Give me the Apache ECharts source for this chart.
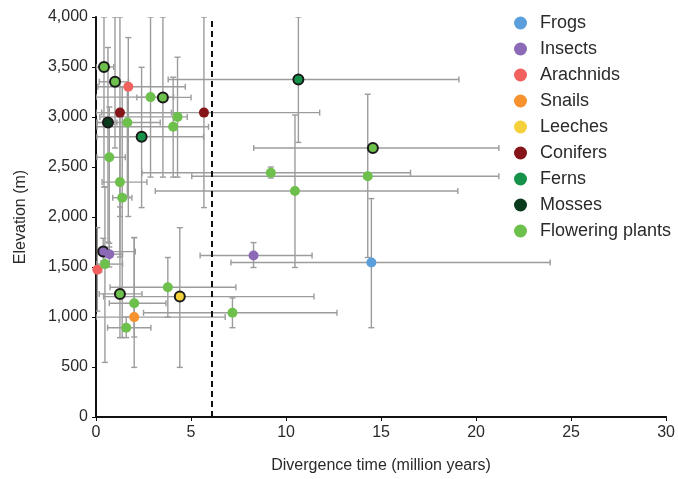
<!DOCTYPE html>
<html>
<head>
<meta charset="utf-8">
<script src="https://cdn.jsdelivr.net/npm/echarts@6/dist/echarts.min.js"></script>
<style>
  html, body { margin: 0; padding: 0; background: #fff; }
  #chart { width: 678px; height: 479px; }
</style>
</head>
<body>
<div id="chart"></div>
<script>
// rows: [time, elevation, timeLow, timeHigh, elevLow, elevHigh, outlined]
var frogs = [
  [14.49, 1545, 7.1, 23.9, 893, 2184, 0]
];
var insects = [
  [0.38, 1654, 0.14, 2.07, 1560, 1787, 1],
  [0.70, 1628, 0.3, 1.4, 1500, 1737, 0],
  [8.29, 1615, 5.48, 11.37, 1495, 1744, 0]
];
var arachnids = [
  [1.70, 3302, 0.1, 4.7, 2005, 3794, 0],
  [0.07, 1472, 0, 0.3, 1059, 1893, 0]
];
var snails = [
  [2.01, 999, 0, 6.8, 496, 1794, 0]
];
var leeches = [
  [4.41, 1204, 0.4, 11.47, 496, 1893, 1]
];
var conifers = [
  [1.26, 3044, 0, 3.97, 2005, 4000, 0],
  [5.68, 3044, 0.3, 11.77, 2094, 4000, 0]
];
var ferns = [
  [10.65, 3375, 3.8, 19.1, 2746, 4000, 1],
  [2.40, 2803, 0.05, 5.66, 2094, 3497, 1]
];
var mosses = [
  [0.63, 2945, 0.05, 1.1, 1750, 3695, 1]
];
var flowering = [
  [0.42, 3500, 0, 0.93, 2300, 4000, 1],
  [1.00, 3352, 0.17, 1.71, 2690, 4000, 1],
  [2.87, 3199, 0, 4.08, 2399, 4000, 0],
  [3.52, 3196, 2.15, 5.0, 2399, 4000, 1],
  [4.29, 3001, 0.2, 4.8, 2399, 3598, 0],
  [4.06, 2902, 0.05, 5.92, 2399, 3398, 0],
  [1.65, 2945, 0.05, 3.38, 2200, 3300, 0],
  [0.70, 2597, 0.05, 1.54, 1700, 3100, 0],
  [1.26, 2349, 0.32, 2.68, 1600, 3000, 0],
  [1.38, 2193, 0.88, 1.89, 794, 3300, 0],
  [9.20, 2442, 2.42, 16.55, 2390, 2500, 0],
  [14.30, 2408, 5.04, 21.2, 1595, 3228, 0],
  [10.47, 2260, 3.12, 19.04, 1495, 3020, 0],
  [14.57, 2690, 8.3, 21.2, 2690, 2690, 1],
  [7.18, 1042, 2.5, 12.68, 893, 1191, 0],
  [0.47, 1529, 0.05, 1.4, 546, 2300, 0],
  [3.78, 1297, 0.74, 7.36, 999, 1595, 0],
  [1.26, 1231, 0.17, 2.42, 794, 2100, 1],
  [2.01, 1138, 0.7, 3.68, 800, 1794, 0],
  [1.59, 893, 0.61, 2.89, 794, 1000, 0]
];

var groupNames = ['Frogs', 'Insects', 'Arachnids', 'Snails', 'Leeches',
  'Conifers', 'Ferns', 'Mosses', 'Flowering plants'];
var groupRows = [frogs, insects, arachnids, snails, leeches,
  conifers, ferns, mosses, flowering];
var groupColors = ['#5a9fdb', '#8c6ab8', '#f1625e', '#f7922e', '#f4d03a',
  '#861519', '#17924a', '#0b3b1d', '#6cc04b'];
var cutoff = 6.1; // dashed reference line

var chart = echarts.init(document.getElementById('chart'), null, { renderer: 'canvas' });

var font = 'Liberation Sans, Arial, Helvetica, sans-serif';

var allRows = [];
groupRows.forEach(function (rows) {
  rows.forEach(function (r) { allRows.push(r.slice(0, 6)); });
});

function renderBars(params, api) {
  var x = api.value(0), y = api.value(1);
  var p = api.coord([x, y]);
  var l = api.coord([api.value(2), y]);
  var r = api.coord([api.value(3), y]);
  var b = api.coord([x, api.value(4)]);
  var t = api.coord([x, api.value(5)]);
  var c = 3;
  var st = { stroke: '#9c9c9c', lineWidth: 1.4 };
  var kids = [];
  function ln(x1, y1, x2, y2) {
    kids.push({ type: 'line', shape: { x1: x1, y1: y1, x2: x2, y2: y2 }, style: st });
  }
  if (r[0] - l[0] > 1) {
    ln(l[0], p[1], r[0], p[1]);
    ln(l[0], p[1] - c, l[0], p[1] + c);
    ln(r[0], p[1] - c, r[0], p[1] + c);
  }
  if (b[1] - t[1] > 1) {
    ln(p[0], t[1], p[0], b[1]);
    ln(p[0] - c, t[1], p[0] + c, t[1]);
    ln(p[0] - c, b[1], p[0] + c, b[1]);
  }
  return { type: 'group', children: kids };
}

var series = [{
  type: 'custom',
  name: 'errors',
  renderItem: renderBars,
  data: allRows,
  encode: { x: 0, y: 1 },
  clip: true,
  silent: true,
  z: 1,
  markLine: {
    silent: true,
    symbol: 'none',
    label: { show: false },
    lineStyle: { color: '#111', width: 2, type: [6, 4] },
    data: [{ xAxis: cutoff }]
  }
}];

groupNames.forEach(function (name, i) {
  series.push({
    type: 'scatter',
    name: name,
    z: 3,
    symbolSize: 10,
    itemStyle: { color: groupColors[i], opacity: 1 },
    data: groupRows[i].map(function (r) {
      var d = { value: [r[0], r[1]] };
      if (r[6]) d.itemStyle = { borderColor: '#1a1a1a', borderWidth: 2 };
      return d;
    })
  });
});

var option = {
  animation: false,
  backgroundColor: '#fff',
  grid: { left: 96, right: 11, top: 17, bottom: 59, containLabel: false },
  legend: {
    data: groupNames,
    orient: 'vertical',
    left: 509,
    top: 9,
    icon: 'circle',
    itemWidth: 13,
    itemHeight: 13,
    itemGap: 8,
    textStyle: { fontFamily: font, fontSize: 18, color: '#2a2a2a', padding: [0, 0, 0, 8] }
  },
  xAxis: {
    type: 'value',
    min: 0,
    max: 30,
    interval: 5,
    name: 'Divergence time (million years)',
    nameLocation: 'middle',
    nameGap: 41,
    nameTextStyle: { fontFamily: font, fontSize: 16, color: '#2a2a2a' },
    axisLine: { lineStyle: { color: '#111', width: 2 } },
    axisTick: { length: 4, lineStyle: { color: '#111' } },
    axisLabel: { fontFamily: font, fontSize: 16, color: '#2a2a2a', margin: 8 },
    splitLine: { show: false }
  },
  yAxis: {
    type: 'value',
    min: 0,
    max: 4000,
    interval: 500,
    name: 'Elevation (m)',
    nameLocation: 'middle',
    nameGap: 67,
    nameTextStyle: { fontFamily: font, fontSize: 16, color: '#2a2a2a' },
    axisLine: { show: true, lineStyle: { color: '#111', width: 2 } },
    axisTick: { show: true, length: 4, lineStyle: { color: '#111' } },
    axisLabel: {
      fontFamily: font, fontSize: 16, color: '#2a2a2a', margin: 8,
      formatter: function (v) { return v.toLocaleString('en-US'); }
    },
    splitLine: { show: false }
  },
  series: series
};

chart.setOption(option);
</script>
</body>
</html>
